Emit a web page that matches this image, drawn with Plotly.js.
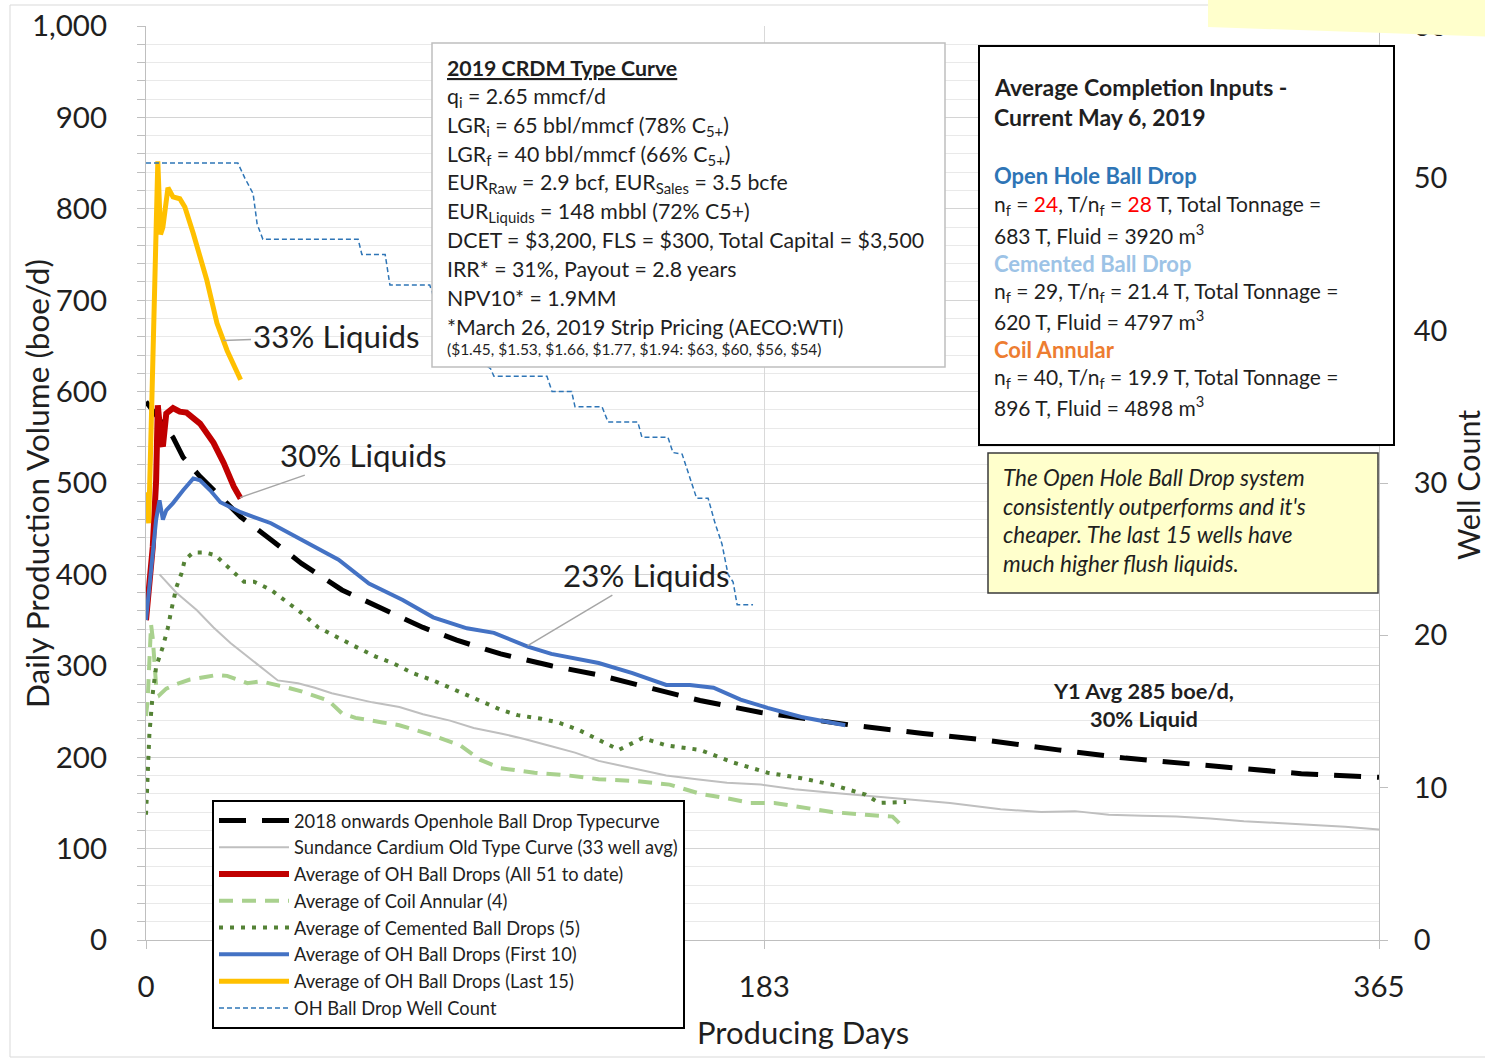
<!DOCTYPE html>
<html>
<head>
<meta charset="utf-8">
<script src="https://cdn.plot.ly/plotly-3.0.1.min.js"></script>
<style>html,body{margin:0;padding:0;background:#fff;}#chart{width:1485px;height:1063px;}</style>
</head>
<body>
<div id="chart"></div>
<script>
// ---------- DATA ----------
const typeDays = [0,4,8,11,16,22,28,37,46,58,71,82,92,105,120,134,150,164,182,209,230,248,270,290,320,342,365];
const typeVals = [589,570,550,528,507,485,463,438,412,383,361,342,328,313,300,290,275,262,249,235,226,219,208,199,189,182,178];

const oldDays = [4,9,15,20,25,30,35,39,45,50,55,60,67,75,82,90,97,105,112,120,127,134,144,154,163,172,182,192,203,213,223,238,253,265,275,285,295,305,315,325,335,345,355,365];
const oldVals = [400,380,361,342,325,310,295,284,281,276,270,266,260,255,247,240,232,226,220,212,205,196,188,180,176,172,170,165,161,158,155,150,143,140,141,137,136,135,133,130,128,126,124,121];

const allDays = [0,2,3,3.5,4.5,5,6,8,10,12,16,20,23,26,28];
const allVals = [350,430,503,585,545,540,576,582,578,577,565,544,522,496,483];

const coilDays = [0,0.5,1,1.5,2,2.5,3,4,6,9,13,18,21,24,27,30,34,38,42,46,50,54,58,62,70,75,84,93,99,105,115,125,134,145,155,164,172,179,186,194,203,213,221,224];
const coilVals = [245,262,305,345,330,300,278,268,275,280,285,288,290,289,285,281,283,280,276,272,267,262,248,243,238,235,225,213,197,188,183,180,176,174,170,160,155,150,150,145,140,137,135,124];

const cemDays = [0,0.5,1,2,3,5,6.5,7.5,9,10.5,11.5,14,17.5,20.5,25,29,32,37,42,46,51,56,62,68,73,79,85,90,97,105,110,117,122,128,134,140,147,154,164,174,184,194,203,213,217,225];
const cemVals = [137,175,225,270,299,321,342,361,386,401,416,424,424,421,405,392,392,383,369,358,342,332,321,310,303,292,284,276,265,252,246,242,238,230,219,208,221,213,208,194,183,177,170,159,150,151];

const firstDays = [0,2,3,4,5,6,8,11,14,16,19,22,28,37,46,57,66,76,85,95,103,108,113,120,127,134,144,154,161,168,176,184,194,203,207];
const firstVals = [350,423,460,481,460,470,478,492,505,503,492,479,468,456,438,416,390,372,353,341,336,328,321,313,308,303,292,279,279,276,263,254,244,237,235];

const lastDays = [0,0.8,1.8,3.5,4.3,5,6.5,8,10,11.5,14,18,21,24,28];
const lastVals = [490,456,600,852,772,780,823,813,811,802,773,722,675,645,613];

const countDays = [0,27.2,29.3,31.7,32.9,34.6,62.8,63.9,70.8,72.2,84,85,90,96,102,103,118.7,120.2,126,127,135,136.8,145.6,146.8,154.5,156,158.7,160,163,166.4,168.4,170.5,172.3,173.8,175,179.7];
const countVals = [51,51,50,49,47,46,46,45,45,43,43,42.3,40,38.5,37.5,37,37,36,36,35,35,34,34,33,33,32,31.9,31,29,29,27.4,26,24,23.5,22,22];

const xTicks = [0,183,365];
const seriesNames = [
  "2018 onwards Openhole Ball Drop Typecurve",
  "Sundance Cardium Old Type Curve (33 well avg)",
  "Average of OH Ball Drops (All 51 to date)",
  "Average of Coil Annular (4)",
  "Average of Cemented Ball Drops (5)",
  "Average of OH Ball Drops (First 10)",
  "Average of OH Ball Drops (Last 15)",
  "OH Ball Drop Well Count"
];

// ---------- CHART ----------
const FONT = "Lato, 'Open Sans', sans-serif";
const TXT = "#1f1f1f";

const traces = [
  {x: typeDays, y: typeVals, name: seriesNames[0], mode: "lines", line: {color: "#000000", width: 5, dash: "27px,16px"}},
  {x: oldDays, y: oldVals, name: seriesNames[1], mode: "lines", line: {color: "#bfbfbf", width: 2}},
  {x: allDays, y: allVals, name: seriesNames[2], mode: "lines", line: {color: "#c00000", width: 6}},
  {x: coilDays, y: coilVals, name: seriesNames[3], mode: "lines", line: {color: "#a9d18e", width: 4, dash: "14px,9px"}},
  {x: cemDays, y: cemVals, name: seriesNames[4], mode: "lines", line: {color: "#548235", width: 4, dash: "4px,7px"}},
  {x: firstDays, y: firstVals, name: seriesNames[5], mode: "lines", line: {color: "#4472c4", width: 4}},
  {x: lastDays, y: lastVals, name: seriesNames[6], mode: "lines", line: {color: "#ffc000", width: 5}},
  {x: countDays, y: countVals, name: seriesNames[7], mode: "lines", yaxis: "y2", line: {color: "#2e75b6", width: 1.5, dash: "5px,3px"}}
];

// pixel helpers for paper placement of decorations
const PL = 146, PR = 1379, PT = 26, PB = 940;
const px = v => (v - PL) / (PR - PL);
const py = v => (PB - v) / (PB - PT);

const lineAnn = (xPix, yPix, text, size, color) => ({
  xref: "paper", yref: "paper", x: px(xPix), y: py(yPix), xanchor: "left", yanchor: "middle",
  text: text, showarrow: false, font: {family: FONT, size: size, color: color || TXT}
});

const crdm = [
  "<b><u>2019 CRDM Type Curve</u></b>",
  "q<sub>i</sub> = 2.65 mmcf/d",
  "LGR<sub>i</sub> = 65 bbl/mmcf (78% C<sub>5+</sub>)",
  "LGR<sub>f</sub> = 40 bbl/mmcf (66% C<sub>5+</sub>)",
  "EUR<sub>Raw</sub> = 2.9 bcf, EUR<sub>Sales</sub> = 3.5 bcfe",
  "EUR<sub>Liquids</sub> = 148 mbbl (72% C5+)",
  "DCET = $3,200, FLS = $300, Total Capital = $3,500",
  "IRR* = 31%, Payout = 2.8 years",
  "NPV10* = 1.9MM",
  "*March 26, 2019 Strip Pricing (AECO:WTI)"
];
const crdmY = [68,97,126,155,183,212,240,269,298,327];
const red = s => "<span style='color:#ff0000'>" + s + "</span>";
const comp = [
  ["<b>Average Completion Inputs -</b>", 87, TXT, 23],
  ["<b>Current May 6, 2019</b>", 117, TXT, 23],
  ["<b>Open Hole Ball Drop</b>", 176, "#2e75b6", 22],
  ["n<sub>f</sub> = " + red("24") + ", T/n<sub>f</sub> = " + red("28") + " T, Total Tonnage =", 205, TXT, 21],
  ["683 T, Fluid = 3920 m<sup>3</sup>", 234, TXT, 21],
  ["<b>Cemented Ball Drop</b>", 263, "#9dc3e6", 22],
  ["n<sub>f</sub> = 29, T/n<sub>f</sub> = 21.4 T, Total Tonnage =", 292, TXT, 21],
  ["620 T, Fluid = 4797 m<sup>3</sup>", 320, TXT, 21],
  ["<b>Coil Annular</b>", 349, "#ed7d31", 22],
  ["n<sub>f</sub> = 40, T/n<sub>f</sub> = 19.9 T, Total Tonnage =", 378, TXT, 21],
  ["896 T, Fluid = 4898 m<sup>3</sup>", 406, TXT, 21]
];
const note = [
  ["<i>The Open Hole Ball Drop system</i>", 477],
  ["<i>consistently outperforms and it's</i>", 506],
  ["<i>cheaper. The last 15 wells have</i>", 534],
  ["<i>much higher flush liquids.</i>", 563]
];

const annotations = [];
crdm.forEach((t, i) => annotations.push(lineAnn(445, crdmY[i], t, 21.3)));
annotations.push(lineAnn(445, 349, "($1.45, $1.53, $1.66, $1.77, $1.94: $63, $60, $56, $54)", 15.5));
comp.forEach(c => annotations.push(lineAnn(992, c[1], c[0], c[3], c[2])));
note.forEach(n => annotations.push(lineAnn(1001, n[1], n[0], 22.5)));

// axis titles
annotations.push({xref: "paper", yref: "paper", x: px(37), y: py(484), xanchor: "center", yanchor: "middle",
  text: "Daily Production Volume (boe/d)", textangle: -90, showarrow: false,
  font: {family: FONT, size: 31.5, color: TXT}});
annotations.push({xref: "paper", yref: "paper", x: px(1468), y: py(485), xanchor: "center", yanchor: "middle",
  text: "Well Count", textangle: -90, showarrow: false, font: {family: FONT, size: 30.5, color: TXT}});
annotations.push({xref: "paper", yref: "paper", x: px(803), y: py(1032), xanchor: "center", yanchor: "middle",
  text: "Producing Days", showarrow: false, font: {family: FONT, size: 31, color: TXT}});

// call-out labels
const callout = (xd, yd, ax, ay, t) => ({x: xd, y: yd, xref: "x", yref: "y", ax: ax, ay: ay, text: t,
  showarrow: true, arrowhead: 0, arrowwidth: 1.5, arrowcolor: "#a6a6a6", standoff: 0,
  font: {family: FONT, size: 31.3, color: TXT}});
annotations.push(callout(22.8, 656, 113, -4, "33% Liquids"));
annotations.push(callout(27.8, 484, 124, -43, "30% Liquids"));
annotations.push(callout(113, 322, 119, -71, "23% Liquids"));
annotations.push({xref: "paper", yref: "paper", x: px(1143), y: py(704), xanchor: "center", yanchor: "middle",
  text: "<b>Y1 Avg 285 boe/d,<br>30% Liquid</b>", showarrow: false, align: "center",
  font: {family: FONT, size: 21.8, color: TXT}});

const shapes = [
  {type: "rect", xref: "paper", yref: "paper", x0: px(10), x1: px(1600), y0: py(1057), y1: py(5),
    line: {color: "#d9d9d9", width: 1}, layer: "below"},
  {type: "rect", xref: "paper", yref: "paper", x0: px(432), x1: px(945), y0: py(367), y1: py(43),
    fillcolor: "#ffffff", line: {color: "#bfbfbf", width: 1.5}, layer: "above"},
  {type: "rect", xref: "paper", yref: "paper", x0: px(979), x1: px(1394), y0: py(445), y1: py(46),
    fillcolor: "#ffffff", line: {color: "#000000", width: 2}, layer: "above"},
  {type: "rect", xref: "paper", yref: "paper", x0: px(988), x1: px(1378), y0: py(593), y1: py(453),
    fillcolor: "#ffffcc", line: {color: "#3a3a3a", width: 1.5}, layer: "above"},
  {type: "path", xref: "paper", yref: "paper",
    path: "M" + px(1208) + "," + py(-5) + " L" + px(1500) + "," + py(-5) + " L" + px(1500) + "," + py(37) + " L" + px(1208) + "," + py(27) + " Z",
    fillcolor: "#ffffcc", line: {width: 0}, layer: "above"}
];

const layout = {
  width: 1485, height: 1063,
  margin: {l: PL, r: 1485 - PR, t: PT, b: 1063 - PB, pad: 0},
  paper_bgcolor: "#ffffff", plot_bgcolor: "#ffffff",
  font: {family: FONT, color: TXT},
  showlegend: true,
  legend: {x: px(212), y: py(800), xanchor: "left", yanchor: "top", bgcolor: "#ffffff",
    bordercolor: "#000000", borderwidth: 2, font: {family: FONT, size: 18.3, color: TXT},
    itemwidth: 70, traceorder: "normal"},
  xaxis: {range: [0, 365], tickmode: "array", tickvals: xTicks, ticktext: xTicks.map(String),
    showgrid: true, gridcolor: "#d9d9d9", gridwidth: 1, zeroline: false,
    showline: true, linecolor: "#bfbfbf", linewidth: 1,
    ticks: "outside", ticklen: 8, tickcolor: "#bfbfbf", ticklabelstandoff: 13,
    tickfont: {family: FONT, size: 29.5, color: TXT}, fixedrange: true},
  yaxis: {range: [0, 1000], dtick: 100, tick0: 0, tickformat: ",d",
    showgrid: true, gridcolor: "#d4d4d4", gridwidth: 1, zeroline: false,
    showline: true, mirror: true, linecolor: "#bfbfbf", linewidth: 1,
    ticks: "outside", ticklen: 8, tickcolor: "#bfbfbf", ticklabelstandoff: 24,
    minor: {dtick: 20, showgrid: true, gridcolor: "#e9e9e9", ticks: "outside", ticklen: 8, tickcolor: "#bfbfbf"},
    tickfont: {family: FONT, size: 29.5, color: TXT}, fixedrange: true},
  yaxis2: {range: [0, 60], dtick: 10, tick0: 0, overlaying: "y", side: "right",
    showgrid: false, zeroline: false, showline: false,
    ticks: "outside", ticklen: 8, tickcolor: "#bfbfbf", ticklabelstandoff: 20,
    tickfont: {family: FONT, size: 29, color: TXT}, fixedrange: true},
  annotations: annotations,
  shapes: shapes
};

Plotly.newPlot("chart", traces, layout, {staticPlot: true, displayModeBar: false});
</script>
</body>
</html>
